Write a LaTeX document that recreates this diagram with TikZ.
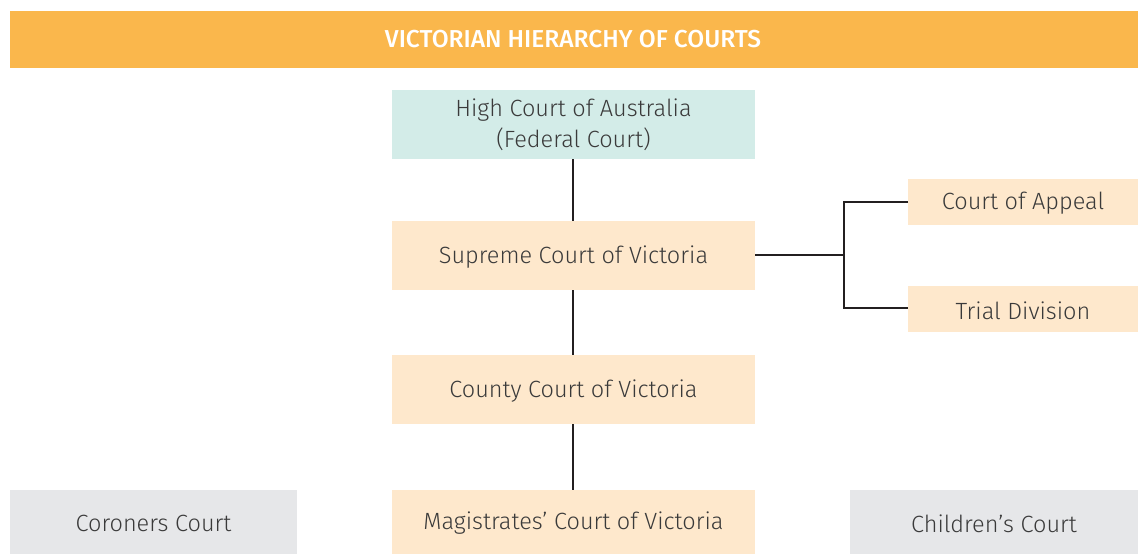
\documentclass[tikz,border=0pt]{standalone}
\usepackage{fontspec}
\setmainfont{Fira Sans}[UprightFont=* Light, BoldFont=* Medium]
\definecolor{hdr}{HTML}{FAB74C}
\definecolor{teal}{HTML}{D3ECE8}
\definecolor{peach}{HTML}{FEE8CC}
\definecolor{grey}{HTML}{E6E7E9}
\definecolor{txt}{HTML}{3A3A3A}
\definecolor{ln}{HTML}{231F20}
\begin{document}
\begin{tikzpicture}[x=1pt,y=-1pt,
  box/.style={inner sep=0pt, text=txt, font=\fontsize{23.5}{31}\selectfont, align=center},
  trunk/.style={draw=ln, line width=2pt},
  branch/.style={draw=ln, line width=1.2pt}]
\useasboundingbox (0,0) rectangle (1138,554);
\fill[hdr] (10,11) rectangle (1138,68);
\node[text=white, font=\bfseries\fontsize{24.5}{28}\selectfont] (title) at (573,39.5) {VICTORIAN HIERARCHY OF COURTS};
\fill[teal] (392,90) rectangle (755,159);
\node[box] (hc) at (573.5,124.5) {High Court of Australia\\(Federal Court)};
\fill[peach] (392,221) rectangle (755,290);
\node[box] (sc) at (573.5,257) {Supreme Court of Victoria};
\fill[peach] (392,355) rectangle (755,424);
\node[box] (cc) at (573.5,391) {County Court of Victoria};
\fill[peach] (392,490) rectangle (755,554);
\node[box] (mc) at (573.5,523.5) {Magistrates’ Court of Victoria};
\fill[grey] (10,490) rectangle (297,554);
\node[box] (cor) at (153.5,523.5) {Coroners Court};
\fill[grey] (850,490) rectangle (1138,554);
\node[box] (ch) at (994,523.5) {Children’s Court};
\fill[peach] (908,179) rectangle (1138,225);
\node[box] (ap) at (1023,203.5) {Court of Appeal};
\fill[peach] (908,286) rectangle (1138,332);
\node[box] (td) at (1023,310.5) {Trial Division};
\coordinate (hcB) at (573,159);
\coordinate (scB) at (573,290);
\coordinate (scT) at (573,221);
\coordinate (ccT) at (573,355);
\coordinate (ccB) at (573,424);
\coordinate (mcT) at (573,490);
\coordinate (scR) at (755,255);
\coordinate (j) at (844,255);
\coordinate (apL) at (908,202);
\coordinate (tdL) at (908,308);
\draw[trunk] (hcB) -- (scT);
\draw[trunk] (scB) -- (ccT);
\draw[trunk] (ccB) -- (mcT);
\draw[trunk] (scR) -- (j);
\draw[branch] (apL) -- (844,202) -- (844,308) -- (tdL);
\end{tikzpicture}
\end{document}
